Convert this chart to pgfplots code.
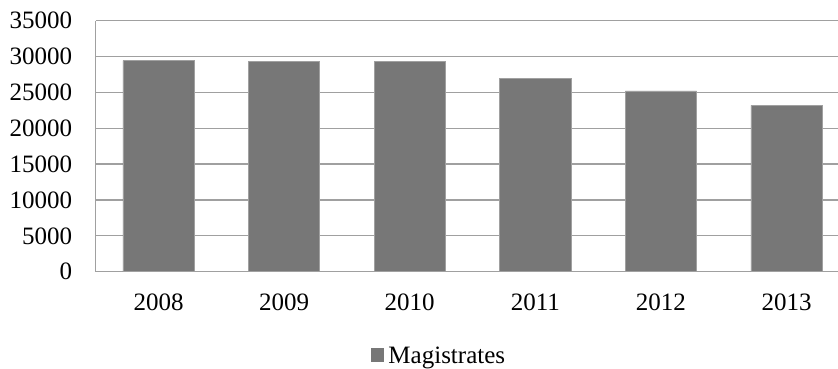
\documentclass[border=0pt]{standalone}
\usepackage{pgfplots}
\pgfplotsset{compat=1.18}
\usepackage{fontspec}
\setmainfont{Liberation Serif}
\definecolor{barcol}{HTML}{777777}
\definecolor{gridcol}{HTML}{A0A0A0}
\begin{document}
\fontsize{25bp}{29bp}\selectfont
\begin{tikzpicture}
\begin{axis}[
  scale only axis,
  width=742.3bp, height=251bp,
  xmin=-0.5, xmax=5.41,
  ymin=0, ymax=35000,
  ytick={0,5000,...,35000},
  xtick={0,1,2,3,4,5},
  xticklabels={2008,2009,2010,2011,2012,2013},
  axis lines*=left,
  axis line style={draw=gridcol, line width=1.3bp},
  ymajorgrids,
  grid style={draw=gridcol, line width=1.3bp},
  major tick length=0pt,
  tick style={draw=none},
  scaled y ticks=false,
  /pgf/number format/assume math mode=true,
  /pgf/number format/1000 sep={},
  yticklabel style={xshift=-15bp},
  xticklabel style={yshift=-14bp},
  ticklabel style={font=\fontsize{25bp}{29bp}\selectfont},
  legend style={at={(0.4625,-0.342)}, anchor=center, draw=none, fill=none,
    font=\fontsize{25bp}{29bp}\selectfont,
    nodes={inner sep=2bp}},
  legend image code/.code={\fill[barcol] (0bp,-4bp) rectangle (12.3bp,9bp); \path (15bp,0bp);},
  legend cell align=left,
  clip=false,
]
\addplot[ybar, bar width=71.3bp, fill=barcol, draw=gridcol, line width=0.6bp]
  coordinates {(0,29440) (1,29300) (2,29300) (3,26930) (4,25210) (5,23180)};
\addlegendentry{Magistrates}
\end{axis}
\pgfresetboundingbox
\path (current axis.south west) ++(-95.7bp,-97.3bp) rectangle ++(838bp,369bp);
\end{tikzpicture}
\end{document}
